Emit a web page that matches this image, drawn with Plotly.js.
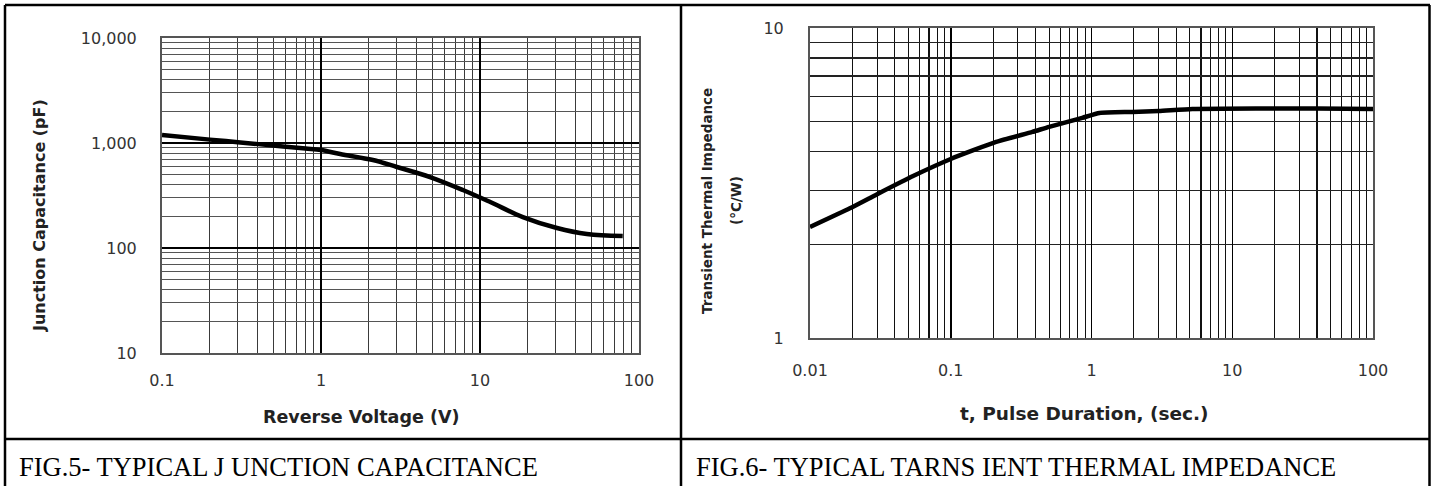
<!DOCTYPE html>
<html>
<head>
<meta charset="utf-8">
<script src="https://cdn.plot.ly/plotly-3.0.1.min.js"></script>
<style>
html,body{margin:0;padding:0;background:#fff;}
#chart{width:1435px;height:486px;}
</style>
</head>
<body>
<div id="chart"></div>
<script>
// ---- Data: Fig.5 Typical junction capacitance ----
const reverseVoltage = [0.1, 0.2, 0.3, 0.5, 0.8, 1, 1.32, 2.12, 3.0, 4.85, 7.8, 11.6, 18.6, 30.5, 47, 79];
const junctionCap    = [1190, 1077, 1018, 946, 887, 857, 785, 689, 591, 474, 357, 274, 197, 155, 136, 130];

// ---- Data: Fig.6 Typical transient thermal impedance ----
const pulseDuration  = [0.01, 0.0192, 0.03, 0.054, 0.1, 0.21, 0.38, 0.5, 0.86, 1.14, 1.95, 3.0, 5.2, 15.5, 40, 100];
const thermalImp     = [2.28, 2.62, 2.91, 3.33, 3.78, 4.29, 4.62, 4.80, 5.13, 5.32, 5.36, 5.40, 5.48, 5.50, 5.50, 5.48];

// ---- Tick labels ----
const x1TickVals = [0.1, 1, 10, 100];
const x1TickText = ["0.1", "1", "10", "100"];
const y1TickVals = [10, 100, 1000, 10000];
const y1TickText = ["10", "100", "1,000", "10,000"];
const x2TickVals = [0.01, 0.1, 1, 10, 100];
const x2TickText = ["0.01", "0.1", "1", "10", "100"];
const y2TickVals = [1, 10];
const y2TickText = ["1", "10"];

// ---- Text ----
const x1Title = "Reverse Voltage (V)";
const y1Title = "Junction Capacitance (pF)";
const x2Title = "t, Pulse Duration, (sec.)";
const y2TitleLine1 = "Transient Thermal Impedance";
const y2TitleLine2 = "(°C/W)";
const caption1 = "FIG.5- TYPICAL J UNCTION CAPACITANCE";
const caption2 = "FIG.6- TYPICAL TARNS IENT THERMAL IMPEDANCE";

// minor log grid positions (2..9 in each decade)
function minorGrid(dLo, dHi){
  const v = [];
  for (let d = dLo; d < dHi; d++) for (let k = 2; k <= 9; k++) v.push(k * Math.pow(10, d));
  return v;
}

const W = 1435, H = 486;
const px = x => x / W;
const py = y => 1 - y / H;

const tickFont = {family: "DejaVu Sans", size: 16, color: "#333"};

function logAxis(domain, range, tv, tt, minorVals, ticklen, anchor, gridc, minorc){
  return {
    type: "log", domain: domain, range: range, anchor: anchor,
    tickmode: "array", tickvals: tv, ticktext: tt,
    ticks: "outside", ticklen: ticklen, tickcolor: "rgba(0,0,0,0)",
    tickfont: tickFont,
    showgrid: true, gridcolor: gridc, gridwidth: 1.5,
    minor: {tickmode: "array", tickvals: minorVals, showgrid: true, gridcolor: minorc, gridwidth: 1.1, ticks: ""},
    showline: true, mirror: true, linecolor: "#555", linewidth: 2,
    zeroline: false, fixedrange: true
  };
}

const traces = [
  {x: reverseVoltage, y: junctionCap, xaxis: "x", yaxis: "y", mode: "lines",
   line: {color: "#000", width: 4.5, shape: "spline", smoothing: 1}, hoverinfo: "x+y"},
  {x: pulseDuration, y: thermalImp, xaxis: "x2", yaxis: "y2", mode: "lines",
   line: {color: "#000", width: 4.5, shape: "spline", smoothing: 0.5}, hoverinfo: "x+y"}
];

const frame = {type: "line", xref: "paper", yref: "paper", line: {color: "#000", width: 2.5}};
const shapes = [
  Object.assign({}, frame, {x0: px(5), x1: px(1430), y0: py(5), y1: py(5)}),
  Object.assign({}, frame, {x0: px(5), x1: px(5), y0: py(5), y1: -0.02}),
  Object.assign({}, frame, {x0: px(1429.5), x1: px(1429.5), y0: py(5), y1: -0.02}),
  Object.assign({}, frame, {x0: px(681), x1: px(681), y0: py(5), y1: -0.02}),
  Object.assign({}, frame, {x0: px(5), x1: px(1430), y0: py(439), y1: py(439)})
];

const bold = (t) => "<b>" + t + "</b>";
const annFont = (s) => ({family: "DejaVu Sans", size: s, color: "#222"});
const annotations = [
  {text: bold(x1Title), xref: "paper", yref: "paper", x: px(361), y: py(417), xanchor: "center", yanchor: "middle", showarrow: false, font: annFont(17.5)},
  {text: bold(y1Title), xref: "paper", yref: "paper", x: px(39), y: py(216), xanchor: "center", yanchor: "middle", textangle: -90, showarrow: false, font: annFont(16)},
  {text: bold(x2Title), xref: "paper", yref: "paper", x: px(1084), y: py(413), xanchor: "center", yanchor: "middle", showarrow: false, font: annFont(18.5)},
  {text: bold(y2TitleLine1), xref: "paper", yref: "paper", x: px(707), y: py(201), xanchor: "center", yanchor: "middle", textangle: -90, showarrow: false, font: annFont(13.5)},
  {text: bold(y2TitleLine2), xref: "paper", yref: "paper", x: px(736), y: py(201), xanchor: "center", yanchor: "middle", textangle: -90, showarrow: false, font: annFont(13.5)},
  {text: caption1, xref: "paper", yref: "paper", x: px(17), y: py(467), xanchor: "left", yanchor: "middle", showarrow: false, font: {family: "Liberation Serif", size: 26.5, color: "#000"}},
  {text: caption2, xref: "paper", yref: "paper", x: px(694), y: py(467), xanchor: "left", yanchor: "middle", showarrow: false, font: {family: "Liberation Serif", size: 26.5, color: "#000"}}
];

const layout = {
  width: W, height: H,
  margin: {l: 0, r: 0, t: 0, b: 0},
  paper_bgcolor: "#fff", plot_bgcolor: "#fff",
  showlegend: false,
  xaxis:  logAxis([px(162), px(639)], [-1, 2], x1TickVals, x1TickText, minorGrid(-1, 2), 12, "y", "#000", "#3a3a3a"),
  yaxis:  logAxis([py(353), py(38)], [1, 4], y1TickVals, y1TickText, minorGrid(1, 4), 20, "x", "#000", "#555"),
  xaxis2: logAxis([px(810), px(1373)], [-2, 2], x2TickVals, x2TickText, minorGrid(-2, 2), 17, "y2", "#000", "#111"),
  yaxis2: logAxis([py(338), py(28)], [0, 1], y2TickVals, y2TickText, minorGrid(0, 1), 21, "x2", "#000", "#222"),
  shapes: shapes,
  annotations: annotations
};

Plotly.newPlot("chart", traces, layout, {displayModeBar: false, staticPlot: true});
</script>
</body>
</html>
